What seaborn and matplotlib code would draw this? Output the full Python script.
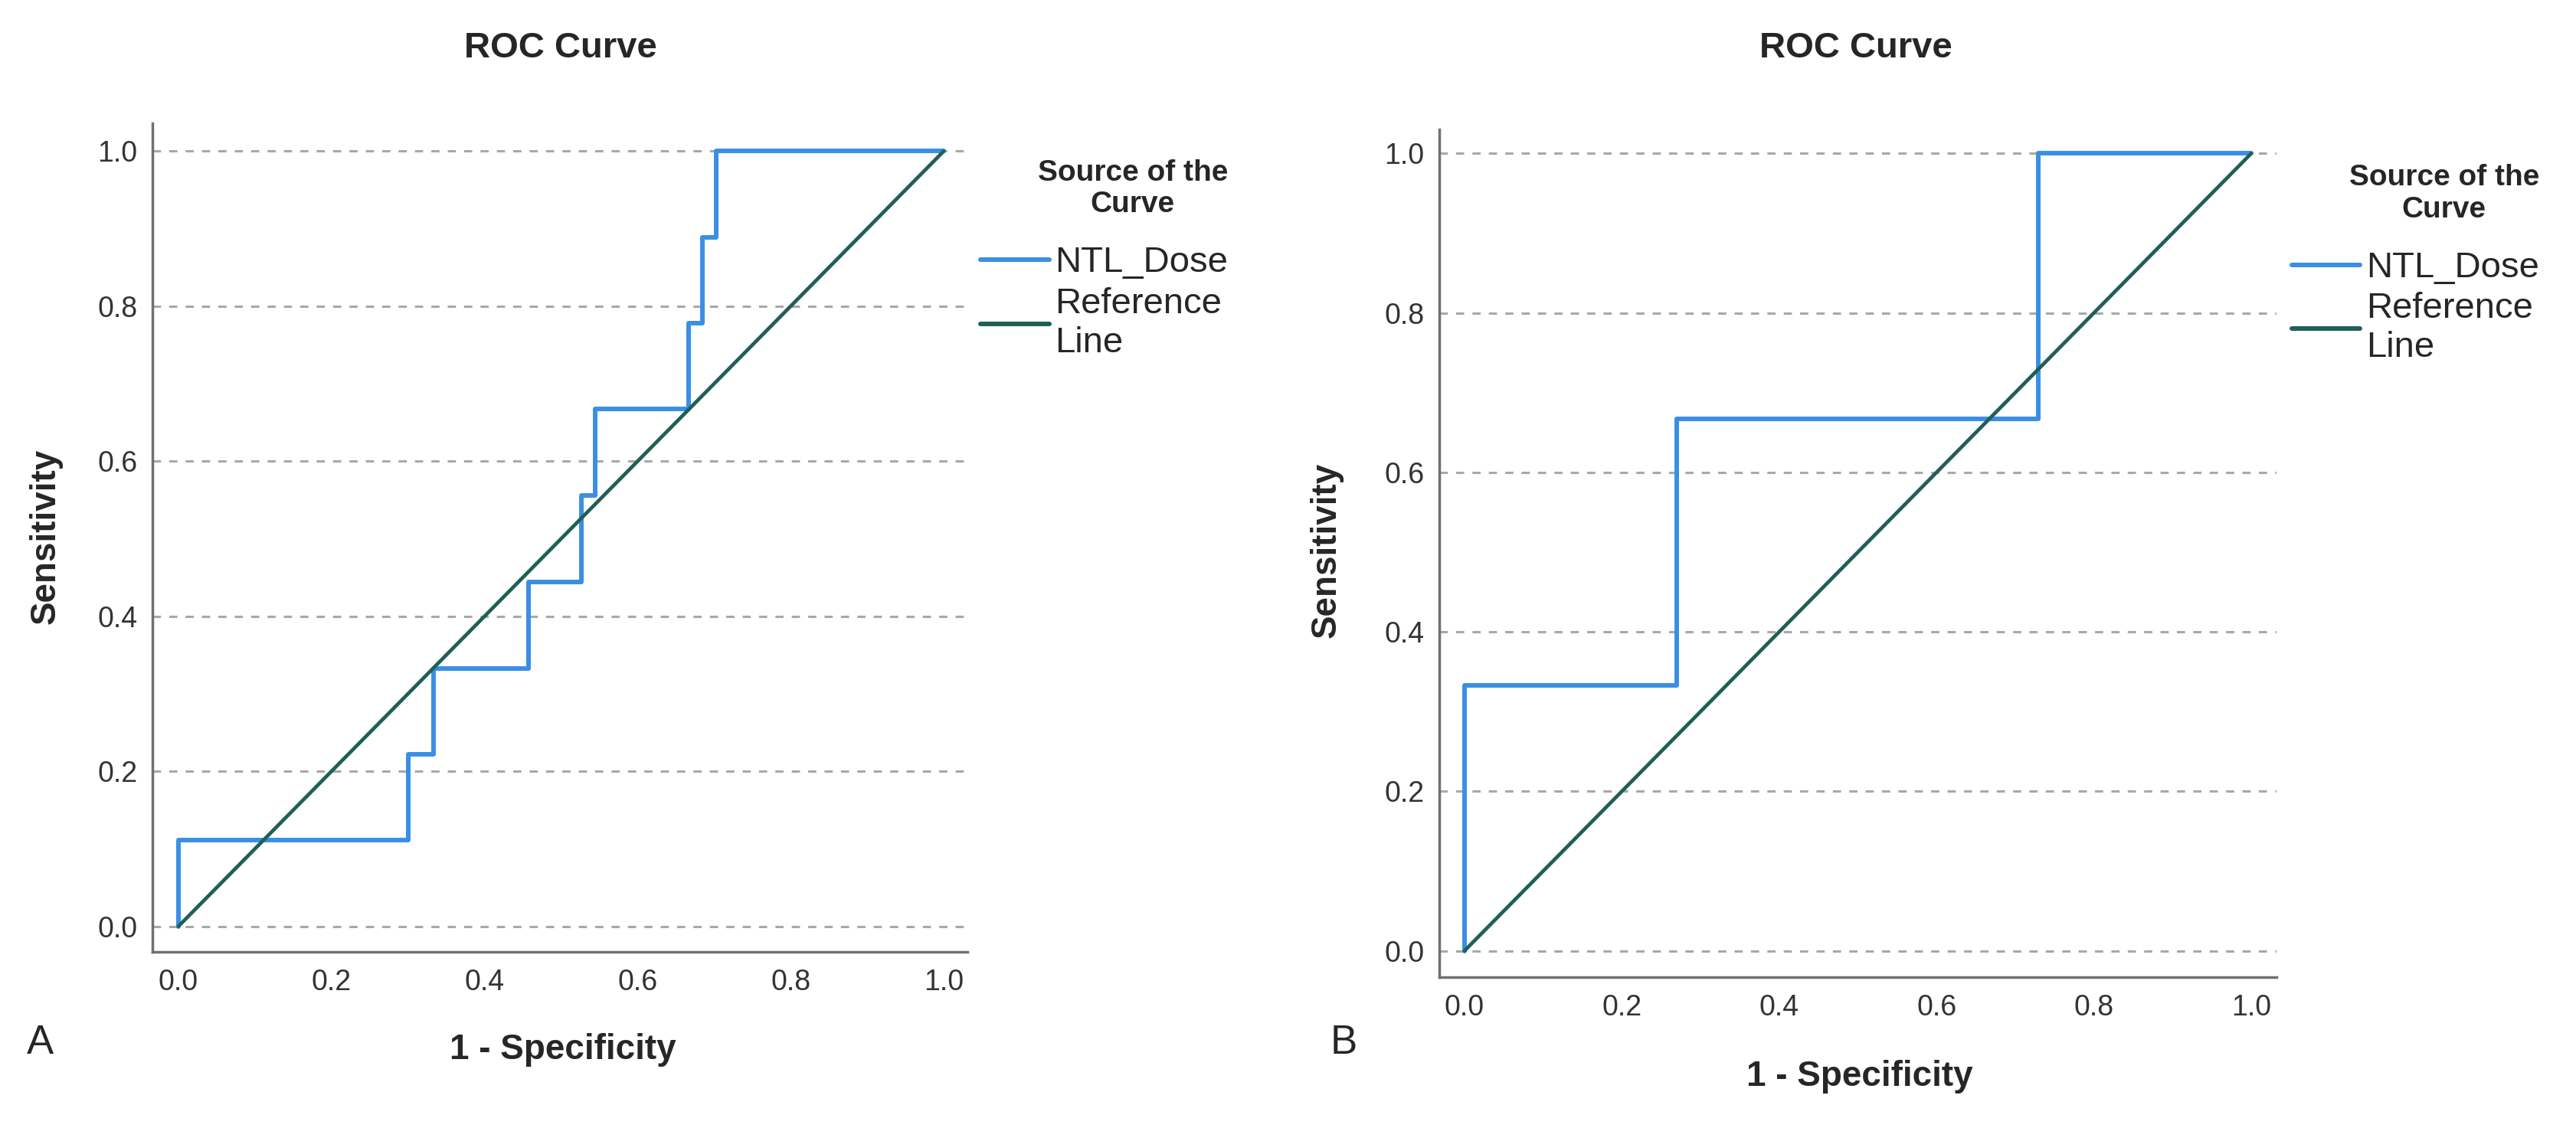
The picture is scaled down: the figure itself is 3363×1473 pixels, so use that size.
import matplotlib
matplotlib.use("Agg")
import matplotlib.pyplot as plt
import seaborn as sns
import pandas as pd

# ---- data ----
# Panel A: ROC curve vertices (steps-post), 1 - specificity vs sensitivity
fpr_a = [0.0, 0.0, 0.300, 0.333, 0.457, 0.527, 0.545, 0.667, 0.685, 0.703, 1.0]
tpr_a = [0.0, 0.111, 0.222, 0.333, 0.444, 0.556, 0.667, 0.778, 0.889, 1.0, 1.0]
# Panel B
fpr_b = [0.0, 0.0, 0.270, 0.729, 1.0]
tpr_b = [0.0, 0.333, 0.667, 1.0, 1.0]
# reference line
ref_x = [0.0, 1.0]
ref_y = [0.0, 1.0]

ticks = [0.0, 0.2, 0.4, 0.6, 0.8, 1.0]
tick_labels = ["0.0", "0.2", "0.4", "0.6", "0.8", "1.0"]
series_labels = ["NTL_Dose", "Reference\nLine"]
legend_title = "Source of the\nCurve"
panel_letters = ["A", "B"]

BLUE = "#3a8fe4"
TEAL = "#1f5f58"
GRID = "#a8a8a8"

sns.set_style("white")
plt.rcParams['font.family'] = ['Liberation Sans', 'DejaVu Sans']

fig = plt.figure(figsize=(33.63, 14.73), dpi=100)

panels = [
    dict(fpr=fpr_a, tpr=tpr_a, pos=[0.05917, 0.15614, 0.3164, 0.7346],
         xlim=(-0.034, 1.031), ylim=(-0.033, 1.036),
         title=(0.2177, 0.957), ylab=(0.0178, 0.5248), xlab=(0.2186, 0.0692),
         letter=(0.0155, 0.0754), leg=(0.3806, 0.859)),
    dict(fpr=fpr_b, tpr=tpr_b, pos=[0.55873, 0.13374, 0.32501, 0.75153],
         xlim=(-0.032, 1.032), ylim=(-0.033, 1.03),
         title=(0.7205, 0.957), ylab=(0.515, 0.5125), xlab=(0.722, 0.0455),
         letter=(0.5216, 0.0754), leg=(0.8896, 0.8545)),
]

for p, letter in zip(panels, panel_letters):
    ax = fig.add_axes(p["pos"])
    for t in ticks:
        ax.axhline(t, color=GRID, lw=2.2, ls=(0, (3.5, 3.5)), zorder=1)
    sns.lineplot(x=p["fpr"], y=p["tpr"], ax=ax, color=BLUE, lw=4.3,
                 drawstyle="steps-post", estimator=None, sort=False,
                 label=series_labels[0], zorder=3)
    sns.lineplot(x=ref_x, y=ref_y, ax=ax, color=TEAL, lw=3.4,
                 estimator=None, sort=False, label=series_labels[1], zorder=4)
    ax.set_xlim(*p["xlim"])
    ax.set_ylim(*p["ylim"])
    ax.set_xticks(ticks)
    ax.set_xticklabels(tick_labels)
    ax.set_yticks(ticks)
    ax.set_yticklabels(tick_labels)
    ax.tick_params(axis="both", length=0, labelsize=27, colors="#333333")
    ax.tick_params(axis="y", pad=14)
    ax.tick_params(axis="x", pad=16)
    for s in ["top", "right"]:
        ax.spines[s].set_visible(False)
    for s in ["left", "bottom"]:
        ax.spines[s].set_color("#707070")
        ax.spines[s].set_linewidth(2.5)
    ax.set_xlabel("")
    ax.set_ylabel("")
    h, l = ax.get_legend_handles_labels()
    leg = ax.legend(h, l, title=legend_title, loc="upper left",
                    bbox_to_anchor=p["leg"], bbox_transform=fig.transFigure,
                    frameon=False, fontsize=34, handlelength=1.9,
                    handletextpad=0.16, labelspacing=0.2, borderpad=0,
                    borderaxespad=0,
                    title_fontproperties={"weight": "bold", "size": 28})
    leg.get_title().set_multialignment("center")
    leg._legend_box.align = "right"
    leg._legend_box.sep = 26
    for line in leg.get_lines():
        line.set_linewidth(4.3)
    fig.text(*p["title"], "ROC Curve", ha="center", va="center",
             fontsize=34, fontweight="bold")
    fig.text(*p["ylab"], "Sensitivity", ha="center", va="center",
             rotation=90, fontsize=33, fontweight="bold")
    fig.text(*p["xlab"], "1 - Specificity", ha="center", va="center",
             fontsize=33, fontweight="bold")
    fig.text(*p["letter"], letter, ha="center", va="center", fontsize=38)

fig.savefig("out.png", dpi=100)
